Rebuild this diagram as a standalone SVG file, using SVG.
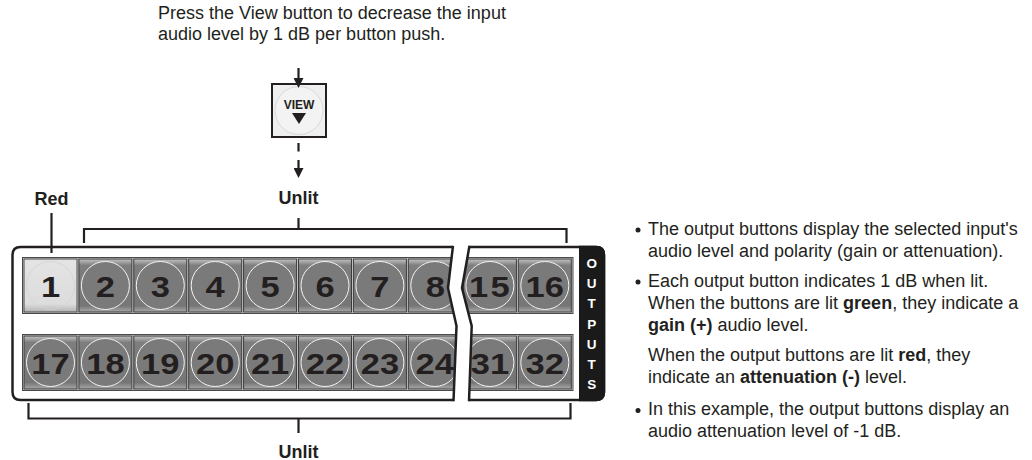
<svg xmlns="http://www.w3.org/2000/svg" xmlns:xlink="http://www.w3.org/1999/xlink" width="1032" height="460" viewBox="0 0 1032 460">
<style>
text{font-family:"Liberation Sans",Arial,Helvetica,sans-serif;fill:#231f20}
.t{font-size:18px}
.b{font-weight:bold}
.lbl{font-size:18px;font-weight:bold;text-anchor:middle}
.num{font-size:30px;font-weight:bold;text-anchor:middle}
.out{font-size:13.5px;font-weight:bold;text-anchor:middle;fill:#fff}
.ln{fill:none;stroke:#231f20;stroke-width:2.2}
</style>
<defs>
<marker id="ah" viewBox="0 0 10 10" refX="5" refY="5" markerWidth="10" markerHeight="10" markerUnits="userSpaceOnUse" orient="auto">
<path d="M0,0 L10,5 L0,10 Z" fill="#231f20"/>
</marker>
<linearGradient id="bv" x1="0" y1="0" x2="0" y2="1">
<stop offset="0" stop-color="#c4c4c4"/>
<stop offset="0.12" stop-color="#7e7e7e"/>
<stop offset="0.88" stop-color="#767676"/>
<stop offset="1" stop-color="#a9a9a9"/>
</linearGradient>
<linearGradient id="lit" x1="0" y1="0" x2="0" y2="1">
<stop offset="0" stop-color="#e4e4e4"/>
<stop offset="0.85" stop-color="#dcdcdc"/>
<stop offset="1" stop-color="#b4b4b4"/>
</linearGradient>
<g id="bt">
<rect width="53" height="53" fill="url(#bv)" stroke="#3c3c3c" stroke-width="1"/>
<circle cx="26.5" cy="26.5" r="24" fill="#7a7a7a" stroke="#f4f4f4" stroke-width="1"/>
</g>
<g id="btl">
<rect width="53" height="53" fill="url(#lit)" stroke="#4a4a4a" stroke-width="1"/>
<circle cx="26.5" cy="26.5" r="24" fill="none" stroke="#d2d2d2" stroke-width="0.8"/>
</g>
</defs>

<g id="instruction">
<text class="t" x="158" y="18.5">Press the View button to decrease the input<tspan x="158" dy="21">audio level by 1 dB per button push.</tspan></text>
</g>

<g id="view-button">
<rect x="272" y="84" width="54" height="53" fill="#efefef" stroke="#231f20" stroke-width="2"/>
<circle cx="299" cy="110.5" r="24" fill="#f3f3f3" stroke="#d9d9d9" stroke-width="1"/>
<text x="299" y="109" style="font-size:12px;font-weight:bold;text-anchor:middle">VIEW</text>
<polygon points="292,113 306,113 299,124" fill="#231f20"/>
</g>

<g id="labels">
<text class="lbl" x="51.5" y="205">Red</text>
<text class="lbl" x="298.5" y="204">Unlit</text>
<text class="lbl" x="298.5" y="458">Unlit</text>
</g>

<g id="panel">
<path d="M20.5,247 L596,247 Q604,247 604,255 L604,392 Q604,400 596,400 L20.5,400 Q12.5,400 12.5,392 L12.5,255 Q12.5,247 20.5,247 Z" fill="#fff" stroke="#231f20" stroke-width="2.5"/>
<path d="M579,245.8 L596,245.8 Q605.2,245.8 605.2,255 L605.2,392 Q605.2,401.2 596,401.2 L579,401.2 Z" fill="#1a1a1a"/>
<text class="out" x="591.7" y="268">O</text>
<text class="out" x="591.7" y="288.2">U</text>
<text class="out" x="591.7" y="308.4">T</text>
<text class="out" x="591.7" y="328.6">P</text>
<text class="out" x="591.7" y="348.8">U</text>
<text class="out" x="591.7" y="369">T</text>
<text class="out" x="591.7" y="389.2">S</text>
<rect x="22.5" y="257.5" width="550.5" height="56" fill="#cfcfcf" stroke="#4a4a4a" stroke-width="1"/>
<rect x="22.5" y="334.5" width="550.5" height="56" fill="#cfcfcf" stroke="#4a4a4a" stroke-width="1"/>
</g>

<g id="btn-1"><use href="#btl" x="24" y="259"/><text class="num" transform="translate(50.5,297) scale(1.15,1)">1</text></g>
<g id="btn-2"><use href="#bt" x="78.9" y="259"/><text class="num" transform="translate(105.4,297) scale(1.15,1)">2</text></g>
<g id="btn-3"><use href="#bt" x="133.8" y="259"/><text class="num" transform="translate(160.3,297) scale(1.15,1)">3</text></g>
<g id="btn-4"><use href="#bt" x="188.7" y="259"/><text class="num" transform="translate(215.2,297) scale(1.15,1)">4</text></g>
<g id="btn-5"><use href="#bt" x="243.6" y="259"/><text class="num" transform="translate(270.1,297) scale(1.15,1)">5</text></g>
<g id="btn-6"><use href="#bt" x="298.5" y="259"/><text class="num" transform="translate(325,297) scale(1.15,1)">6</text></g>
<g id="btn-7"><use href="#bt" x="353.4" y="259"/><text class="num" transform="translate(379.9,297) scale(1.15,1)">7</text></g>
<g id="btn-8"><use href="#bt" x="408.3" y="259"/><text class="num" transform="translate(435.3,297) scale(1.15,1)">8</text></g>
<g id="btn-15"><use href="#bt" x="463.4" y="259"/><text class="num" transform="translate(490.4,297) scale(1.15,1)" letter-spacing="2">15</text></g>
<g id="btn-16"><use href="#bt" x="518.3" y="259"/><text class="num" transform="translate(544.8,297) scale(1.15,1)">16</text></g>

<g id="btn-17"><use href="#bt" x="24" y="336"/><text class="num" transform="translate(50.5,374) scale(1.15,1)">17</text></g>
<g id="btn-18"><use href="#bt" x="78.9" y="336"/><text class="num" transform="translate(105.4,374) scale(1.15,1)">18</text></g>
<g id="btn-19"><use href="#bt" x="133.8" y="336"/><text class="num" transform="translate(160.3,374) scale(1.15,1)">19</text></g>
<g id="btn-20"><use href="#bt" x="188.7" y="336"/><text class="num" transform="translate(215.2,374) scale(1.15,1)">20</text></g>
<g id="btn-21"><use href="#bt" x="243.6" y="336"/><text class="num" transform="translate(270.1,374) scale(1.15,1)">21</text></g>
<g id="btn-22"><use href="#bt" x="298.5" y="336"/><text class="num" transform="translate(325,374) scale(1.15,1)">22</text></g>
<g id="btn-23"><use href="#bt" x="353.4" y="336"/><text class="num" transform="translate(379.9,374) scale(1.15,1)">23</text></g>
<g id="btn-24"><use href="#bt" x="408.3" y="336"/><text class="num" transform="translate(434.8,374) scale(1.15,1)">24</text></g>
<g id="btn-31"><use href="#bt" x="463.4" y="336"/><text class="num" transform="translate(489.9,374) scale(1.15,1)">31</text></g>
<g id="btn-32"><use href="#bt" x="518.3" y="336"/><text class="num" transform="translate(544.8,374) scale(1.15,1)">32</text></g>

<g id="break">
<polygon points="453,244 448,288 456.5,326 453.5,403 469,403 471.7,326 462,288 469.5,244" fill="#fff"/>
<polyline points="453,245.8 448,288 456.5,326 453.5,401.2" fill="none" stroke="#231f20" stroke-width="2.5"/>
<polyline points="469.5,245.8 462,288 471.7,326 469,401.2" fill="none" stroke="#231f20" stroke-width="2.5"/>
</g>

<g id="connectors">
<line class="ln" x1="298.5" y1="68" x2="298.5" y2="83" marker-end="url(#ah)"/>
<line class="ln" x1="298.5" y1="143" x2="298.5" y2="151.5"/>
<line class="ln" x1="298.5" y1="160" x2="298.5" y2="173" marker-end="url(#ah)"/>
<polyline class="ln" points="298.5,218 298.5,229"/>
<polyline class="ln" points="84,243 84,229 566.5,229 566.5,243"/>
<line class="ln" x1="51.5" y1="213" x2="51.5" y2="253"/>
<polyline class="ln" points="28.5,403 28.5,418.5 570.5,418.5 570.5,403"/>
<line class="ln" x1="298.5" y1="418.5" x2="298.5" y2="433"/>
</g>

<g id="notes">
<circle cx="638" cy="230" r="2.5" fill="#231f20"/>
<text class="t" x="648" y="234.5">The output buttons display the selected input's</text>
<text class="t" x="648" y="256.5">audio level and polarity (gain or attenuation).</text>
<circle cx="638" cy="282" r="2.5" fill="#231f20"/>
<text class="t" x="648" y="286.5">Each output button indicates 1 dB when lit.</text>
<text class="t" x="648" y="308.5">When the buttons are lit <tspan class="b">green</tspan>, they indicate a</text>
<text class="t" x="648" y="330.5"><tspan class="b">gain (+)</tspan> audio level.</text>
<text class="t" x="648" y="360.5">When the output buttons are lit <tspan class="b">red</tspan>, they</text>
<text class="t" x="648" y="382.5">indicate an <tspan class="b">attenuation (-)</tspan> level.</text>
<circle cx="638" cy="410.5" r="2.5" fill="#231f20"/>
<text class="t" x="648" y="415">In this example, the output buttons display an</text>
<text class="t" x="648" y="437">audio attenuation level of -1 dB.</text>
</g>
</svg>
